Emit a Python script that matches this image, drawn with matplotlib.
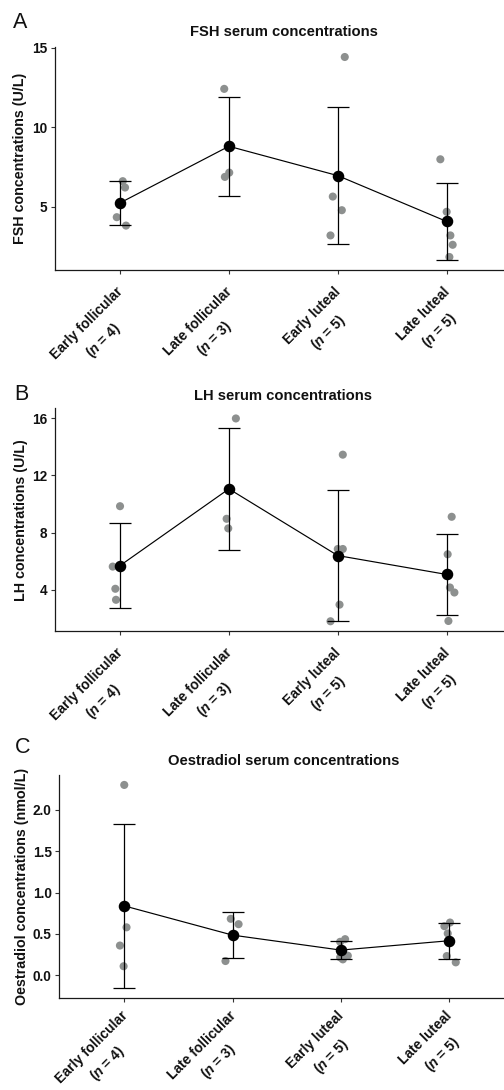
import matplotlib
matplotlib.use("Agg")
import matplotlib.pyplot as plt
from matplotlib.transforms import ScaledTranslation
import numpy as np

# ---------------- data ----------------
categories = ["Early follicular", "Late follicular", "Early luteal", "Late luteal"]
n_per_group = [4, 3, 5, 5]

fsh_points = [[6.60, 6.20, 4.33, 3.80], [12.42, 6.87, 7.14],
              [14.43, 6.90, 5.63, 4.77, 3.18], [7.98, 4.67, 3.18, 2.59, 1.82]]
fsh_jitter = [[0.025, 0.046, -0.030, 0.055], [-0.043, -0.037, 0.003],
              [0.064, 0.010, -0.046, 0.037, -0.067], [-0.058, 0.0, 0.034, 0.055, 0.025]]
fsh_mean = [5.23, 8.80, 6.95, 4.06]
fsh_sd = [1.39, 3.12, 4.34, 2.45]

lh_points = [[9.84, 5.62, 4.07, 3.30], [15.97, 8.96, 8.29],
             [13.44, 6.85, 6.85, 2.96, 1.80], [9.10, 6.48, 4.16, 3.81, 1.82]]
lh_jitter = [[0.0, -0.067, -0.043, -0.037], [0.064, -0.021, -0.006],
             [0.046, 0.0, 0.046, 0.016, -0.067], [0.046, 0.009, 0.030, 0.071, 0.016]]
lh_mean = [5.69, 11.05, 6.39, 5.07]
lh_sd = [2.95, 4.27, 4.57, 2.80]

e2_points = [[2.30, 0.58, 0.36, 0.11], [0.683, 0.618, 0.173],
             [0.437, 0.405, 0.237, 0.193, 0.217], [0.638, 0.594, 0.506, 0.233, 0.157]]
e2_jitter = [[0.0, 0.021, -0.040, -0.006], [-0.016, 0.056, -0.065],
             [0.040, -0.006, 0.065, 0.019, -0.006], [0.009, -0.043, -0.012, -0.021, 0.062]]
e2_mean = [0.839, 0.486, 0.305, 0.418]
e2_sd = [0.99, 0.275, 0.11, 0.215]

titles = ["FSH serum concentrations", "LH serum concentrations",
          "Oestradiol serum concentrations"]
ylabels = ["FSH concentrations (U/L)", "LH concentrations (U/L)",
           "Oestradiol concentrations (nmol/L)"]
panel_letters = ["A", "B", "C"]
yticks_list = [[5, 10, 15], [4, 8, 12, 16], [0.0, 0.5, 1.0, 1.5, 2.0]]
ytick_fmt = ["{:.0f}", "{:.0f}", "{:.1f}"]

# ---------------- style ----------------
plt.rcParams["font.family"] = ["Liberation Sans", "DejaVu Sans"]
plt.rcParams["mathtext.fontset"] = "custom"
plt.rcParams["mathtext.rm"] = "Liberation Sans:bold"
plt.rcParams["mathtext.it"] = "Liberation Sans:italic:bold"
plt.rcParams["mathtext.bf"] = "Liberation Sans:bold"

W, H = 504, 1090
DPI = 100
fig = plt.figure(figsize=(W / DPI, H / DPI), dpi=DPI)
renderer = fig.canvas.get_renderer()


def fx(px):
    return px / W


def fy(py):
    return 1 - py / H


# axes boxes in pixels: left, right, top, bottom
boxes = [(54.7, 512, 47, 270), (54.7, 512, 408.3, 631), (59.3, 514, 775, 997.7)]
ylims = [(1.0, 15.06), (1.12, 16.68), (-0.27, 2.42)]
letter_pos = [(13, 28.5), (14, 400), (15, 753)]
title_pos = [(283.5, 36.5), (283.5, 400), (283.5, 765)]
ylabel_x = [20.5, 21.5, 22.5]
label_drop = [8, 8, 4]

datasets = [(fsh_points, fsh_jitter, fsh_mean, fsh_sd),
            (lh_points, lh_jitter, lh_mean, lh_sd),
            (e2_points, e2_jitter, e2_mean, e2_sd)]

grey = "#8d908f"
XFS = 10
TICK_LEN, TICK_PAD = 3, 2
LINE_GAP = 21.5  # px between first and second line of x labels
xpos = np.arange(len(categories))
second_lines = [f"($\\mathit{{n}}$ = {n})" for n in n_per_group]

# widths of first lines (pixels)
first_w = []
for c in categories:
    tmp = fig.text(0, 0, c, fontsize=XFS, fontweight="bold")
    first_w.append(tmp.get_window_extent(renderer).width)
    tmp.remove()

c45 = np.cos(np.pi / 4)

for i, (pts, jit, mean, sd) in enumerate(datasets):
    l, r, t, b = boxes[i]
    ax = fig.add_axes([fx(l), fy(b), fx(r) - fx(l), fy(t) - fy(b)])
    for k in range(len(categories)):
        xs = xpos[k] + np.array(jit[k])
        ax.scatter(xs, pts[k], s=34, color=grey, edgecolors="none", zorder=2)
    ax.errorbar(xpos, mean, yerr=sd, fmt="none", ecolor="black", elinewidth=0.9,
                capsize=7.6, capthick=0.9, zorder=3)
    ax.plot(xpos, mean, color="black", lw=0.85, zorder=4)
    ax.plot(xpos, mean, "o", color="black", ms=7.3, zorder=5)

    ax.set_xlim(-0.6, 3.6)
    ax.set_ylim(*ylims[i])
    for s in ["top", "right"]:
        ax.spines[s].set_visible(False)
    for s in ["left", "bottom"]:
        ax.spines[s].set_linewidth(0.9)
        ax.spines[s].set_color("#1a1a1a")
    ax.tick_params(axis="both", length=TICK_LEN, width=0.8, color="#333333",
                   labelcolor="#111111")
    ax.tick_params(axis="y", pad=2.5)
    ax.tick_params(axis="x", pad=TICK_PAD)

    ax.set_yticks(yticks_list[i])
    ax.set_yticklabels([ytick_fmt[i].format(v) for v in yticks_list[i]],
                       fontsize=9.8, fontweight="bold")
    ax.set_xticks(xpos)
    ax.set_xticklabels(categories, fontsize=XFS, fontweight="bold", rotation=45,
                       ha="right", va="top", rotation_mode="anchor")
    off = ScaledTranslation(-4 / DPI, -label_drop[i] / DPI, fig.dpi_scale_trans)
    for lab in ax.get_xticklabels():
        lab.set_transform(lab.get_transform() + off)

    # second line "(n = k)" centred under the first line
    base_dy = -(TICK_LEN + TICK_PAD) / 72.0
    for k in range(len(categories)):
        half = first_w[k] / 2
        dx_px = -4 - c45 * half + c45 * LINE_GAP
        dy_px = -label_drop[i] - c45 * half - c45 * LINE_GAP
        tr = ax.get_xaxis_transform() + ScaledTranslation(
            dx_px / DPI, base_dy + dy_px / DPI, fig.dpi_scale_trans)
        ax.text(xpos[k], 0, second_lines[k], transform=tr, rotation=45,
                rotation_mode="anchor", ha="center", va="top", fontsize=XFS,
                fontweight="bold", color="#111111", clip_on=False)

    cy = (t + b) / 2
    fig.text(fx(ylabel_x[i]), fy(cy), ylabels[i], rotation=90, ha="center",
             va="center", fontsize=10.3, fontweight="bold", color="#111111")
    fig.text(fx(title_pos[i][0]), fy(title_pos[i][1]), titles[i], ha="center",
             va="baseline", fontsize=10.6, fontweight="bold", color="#111111")
    fig.text(fx(letter_pos[i][0]), fy(letter_pos[i][1]), panel_letters[i],
             ha="left", va="baseline", fontsize=15.5, color="#111111")

fig.savefig("out.png", dpi=DPI)
